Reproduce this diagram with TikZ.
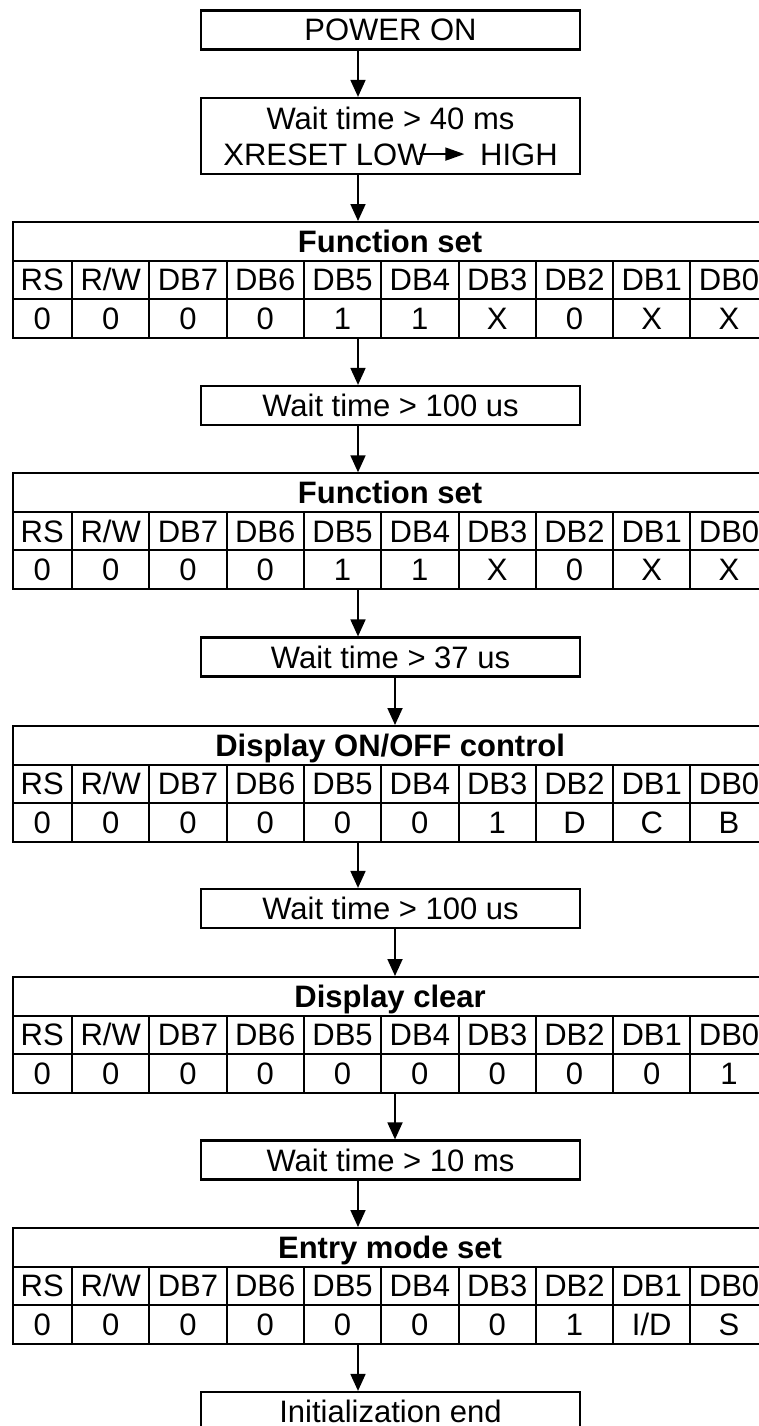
\documentclass[tikz,border=0pt]{standalone}
\usepackage{fontspec}
\setmainfont{Liberation Sans}
\usetikzlibrary{arrows.meta,positioning}

\newcommand{\colname}[1]{\ifcase#1\or RS\or R/W\or DB7\or DB6\or DB5\or DB4\or DB3\or DB2\or DB1\or DB0\fi}

% instruction table: name, top edge, title, bit values
\newcommand{\cmdtable}[4]{%
  \node[titlecell] (#1) at (390.1,#2+19.25) {#3};
  \foreach \val [count=\i] in {#4} {
    \pgfmathsetmacro{\cx}{\i==1 ? 42.25 : 72+77.3*(\i-1.5)}
    \pgfmathsetmacro{\cw}{\i==1 ? 59.5 : 77.3}
    \node[cell,minimum width=\cw pt] (#1-h\i) at (\cx,#2+57.75) {\colname{\i}};
    \node[cell,minimum width=\cw pt] (#1-v\i) at (\cx,#2+96.25) {\val};
  }
}

% small arrow inside the reset text
\newcommand{\lowhigh}{\kern-7pt\tikz[baseline=0pt]\draw[-{Triangle[length=19pt,width=13pt]},line width=1.6pt] (0pt,11pt) -- (44pt,11pt);\kern15pt}

\begin{document}
\begin{tikzpicture}[x=1pt,y=-1pt,>={Triangle[length=17pt,width=15pt]},
    font=\fontsize{31}{36}\selectfont]
  \tikzstyle{waitbox}=[draw,line width=2.2pt,minimum width=379pt,minimum height=39pt,inner sep=0pt,text height=22pt,text depth=0pt]
  \tikzstyle{resetbox}=[draw,line width=2.2pt,minimum width=379pt,minimum height=76pt,inner sep=0pt,align=center]
  \tikzstyle{cell}=[draw,line width=2pt,minimum height=38.5pt,inner sep=0pt,text height=22pt,text depth=0pt]
  \tikzstyle{titlecell}=[cell,minimum width=755.2pt,font=\fontsize{31}{36}\selectfont\bfseries]
  \tikzstyle{flow}=[->,line width=1.8pt]

  \useasboundingbox (0,0) rectangle (759,1426);
  \coordinate (ax) at (358,0);
  \coordinate (bx) at (395,0);

  \node[waitbox]  (pwr) at (390.5,30)     {POWER ON};
  \node[resetbox] (w1)  at (390.5,136)    {Wait time > 40 ms\\XRESET LOW\lowhigh HIGH};
  \cmdtable{t1}{222}{Function set}{0,0,0,0,1,1,X,0,X,X}
  \node[waitbox]  (w2)  at (390.5,405.5)  {Wait time > 100 us};
  \cmdtable{t2}{473.3}{Function set}{0,0,0,0,1,1,X,0,X,X}
  \node[waitbox]  (w3)  at (390.5,657)    {Wait time > 37 us};
  \cmdtable{t3}{726}{Display ON/OFF control}{0,0,0,0,0,0,1,D,C,B}
  \node[waitbox]  (w4)  at (390.5,908.5)  {Wait time > 100 us};
  \cmdtable{t4}{977}{Display clear}{0,0,0,0,0,0,0,0,0,1}
  \node[waitbox]  (w5)  at (390.5,1160)   {Wait time > 10 ms};
  \cmdtable{t5}{1228}{Entry mode set}{0,0,0,0,0,0,0,1,I/D,S}
  \node[waitbox]  (end) at (390.5,1411.5) {Initialization end};

  \draw[flow] (pwr.south -| ax)  -- (w1.north -| ax);
  \draw[flow] (w1.south -| ax)   -- (t1.north -| ax);
  \draw[flow] (t1-v5.south -| ax) -- (w2.north -| ax);
  \draw[flow] (w2.south -| ax)   -- (t2.north -| ax);
  \draw[flow] (t2-v5.south -| ax) -- (w3.north -| ax);
  \draw[flow] (w3.south -| bx)   -- (t3.north -| bx);
  \draw[flow] (t3-v5.south -| ax) -- (w4.north -| ax);
  \draw[flow] (w4.south -| bx)   -- (t4.north -| bx);
  \draw[flow] (t4-v6.south -| bx) -- (w5.north -| bx);
  \draw[flow] (w5.south -| ax)   -- (t5.north -| ax);
  \draw[flow] (t5-v5.south -| ax) -- (end.north -| ax);
\end{tikzpicture}
\end{document}
